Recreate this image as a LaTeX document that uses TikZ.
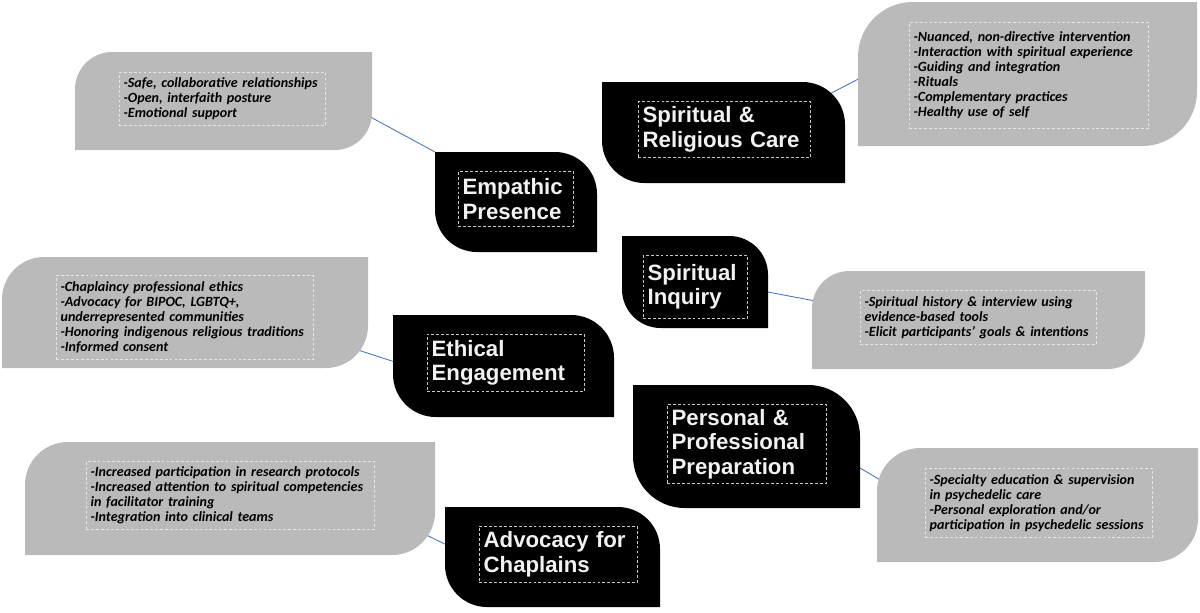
\documentclass[tikz,border=0pt]{standalone}
\usepackage{fontspec}
\setmainfont{Carlito}
\newfontfamily\headfont{Liberation Sans}
\usetikzlibrary{backgrounds}

\definecolor{leafgray}{HTML}{BABABA}
\definecolor{leafblack}{HTML}{000000}
\definecolor{dashlight}{HTML}{E4E4E4}
\definecolor{dashdark}{HTML}{C8C8C8}
\definecolor{headwhite}{HTML}{F2F2F2}
\definecolor{linkblue}{HTML}{4472C4}

% leaf shapes, coordinates in px (x1,y1) top left, (x2,y2) bottom right
\newcommand{\grayleaf}[5]{%
  \pgfmathsetmacro\rr{0.38*(#5-#3)}%
  \pgfmathsetmacro\kk{0.448*\rr}%
  \fill[leafgray] (#2,#5) -- (#2,#3+\rr)
    .. controls (#2,#3+\kk) and (#2+\kk,#3) .. (#2+\rr,#3)
    -- (#4,#3) -- (#4,#5-\rr)
    .. controls (#4,#5-\kk) and (#4-\kk,#5) .. (#4-\rr,#5) -- cycle;
  \coordinate (#1-nw) at (#2,#3);
  \coordinate (#1-se) at (#4,#5);
}
\newcommand{\blackleaf}[5]{%
  \pgfmathsetmacro\rr{0.42*(#5-#3)}%
  \pgfmathsetmacro\kk{0.448*\rr}%
  \fill[leafblack] (#2,#3) -- (#4-\rr,#3)
    .. controls (#4-\kk,#3) and (#4,#3+\kk) .. (#4,#3+\rr)
    -- (#4,#5) -- (#2+\rr,#5)
    .. controls (#2+\kk,#5) and (#2,#5-\kk) .. (#2,#5-\rr) -- cycle;
  \coordinate (#1-nw) at (#2,#3);
  \coordinate (#1-se) at (#4,#5);
}
\newcommand{\leaftext}[7]{%
  \pgfmathsetlengthmacro\tw{(#5-#3)*0.025cm-6pt}%
  \node[#1, text width=\tw, minimum height={(#6-#4)*0.025cm}] (#2) at (#3,#4) {#7};
}

\tikzset{
  listbox/.style={draw=dashlight, line width=0.6pt, dash pattern=on 2pt off 1.5pt,
    anchor=north west, inner xsep=3pt, inner ysep=1.5pt, align=left, text=black,
    font=\fontsize{10}{10.7}\selectfont\bfseries\itshape},
  headbox/.style={draw=dashdark, line width=0.6pt, dash pattern=on 2pt off 1.5pt,
    anchor=north west, inner xsep=3pt, inner ysep=1.5pt, align=left, text=headwhite,
    font=\headfont\bfseries\fontsize{15.8}{17.5}\selectfont},
  link/.style={draw=linkblue, line width=0.6pt}
}

\begin{document}
\begin{tikzpicture}[x=0.025cm, y=-0.025cm]
\useasboundingbox (0,0) rectangle (1200,612);

\foreach \nm/\xa/\ya/\xb/\yb in {empathy/75/52/372/150, care/858/2/1197/146,
  inquiry/812/271/1145/369, ethics/2/257/368/368, prep/877/448/1198/562,
  advocacy/25/442/435/555}
{
  \grayleaf{\nm}{\xa}{\ya}{\xb}{\yb}
}
\foreach \nm/\xa/\ya/\xb/\yb in {presence/435/152/597/252, religious/602/82/845/183,
  spirinq/622/236/768/328, engage/393/315/614/417, personal/633/385/860/508,
  chaplains/445/507/660/607}
{
  \blackleaf{\nm}{\xa}{\ya}{\xb}{\yb}
}

% item lists
\leaftext{listbox}{empathy-list}{119}{72}{325}{125}{-Safe, collaborative relationships\\-Open, interfaith posture\\-Emotional support}
\leaftext{listbox}{care-list}{909}{22}{1148}{128}{-Nuanced, non-directive intervention\\-Interaction with spiritual experience\\-Guiding and integration\\-Rituals\\-Complementary practices\\-Healthy use of self}
\leaftext{listbox}{inquiry-list}{860}{290}{1096}{344}{-Spiritual history \& interview using\\evidence-based tools\\-Elicit participants' goals \& intentions}
\leaftext{listbox}{ethics-list}{56}{275}{313}{359}{-Chaplaincy professional ethics\\-Advocacy for BIPOC, LGBTQ+,\\underrepresented communities\\-Honoring indigenous religious traditions\\-Informed consent}
\leaftext{listbox}{prep-list}{925}{468}{1152}{537}{-Specialty education \& supervision\\in psychedelic care\\-Personal exploration and/or\\participation in psychedelic sessions}
\leaftext{listbox}{advocacy-list}{86}{461}{374}{529}{-Increased participation in research protocols\\-Increased attention to spiritual competencies\\in facilitator training\\-Integration into clinical teams}

% headings
\leaftext{headbox}{presence-head}{458}{171}{573}{226}{Empathic\\Presence}
\leaftext{headbox}{religious-head}{638}{101}{810}{157}{Spiritual \&\\Religious Care}
\leaftext{headbox}{spirinq-head}{643}{255}{747}{318}{Spiritual\\Inquiry}
\leaftext{headbox}{engage-head}{427}{334}{584}{391}{Ethical\\Engagement}
\leaftext{headbox}{personal-head}{667}{404}{826}{483}{Personal \&\\Professional\\Preparation}
\leaftext{headbox}{chaplains-head}{479}{526}{637}{582}{Advocacy for\\Chaplains}

% connectors
\coordinate (empathy-end) at (352,107);
\coordinate (care-end) at (868,74);
\coordinate (religious-end) at (820,99);
\coordinate (spirinq-end) at (760,290.5);
\coordinate (inquiry-end) at (822,302.3);
\coordinate (ethics-end) at (350,347.4);
\coordinate (engage-end) at (402,364.3);
\coordinate (personal-end) at (850,462);
\coordinate (prep-end) at (892,487);
\coordinate (advocacy-end) at (412,528);
\coordinate (chaplains-end) at (455,549);
\begin{scope}[on background layer]
\fill[white] (0,0) rectangle (1200,612);
\draw[link] (empathy-end) -- (presence-nw);
\draw[link] (religious-end) -- (care-end);
\draw[link] (spirinq-end) -- (inquiry-end);
\draw[link] (ethics-end) -- (engage-end);
\draw[link] (personal-end) -- (prep-end);
\draw[link] (advocacy-end) -- (chaplains-end);
\end{scope}
\end{tikzpicture}
\end{document}
